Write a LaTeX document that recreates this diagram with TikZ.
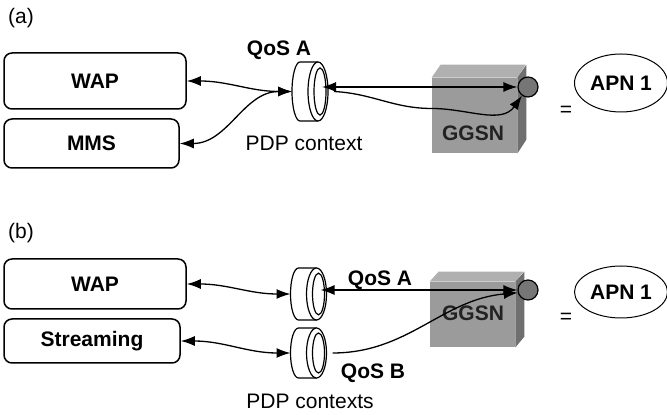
\documentclass[tikz,border=0pt]{standalone}
\usepackage{fontspec}
\setmainfont{Liberation Sans}
\usetikzlibrary{arrows.meta, positioning, shapes.geometric}

\definecolor{cubefront}{HTML}{9B9B9B}
\definecolor{cubetop}{HTML}{B0B0B0}
\definecolor{cubeside}{HTML}{6F6F6F}
\definecolor{cubetext}{HTML}{222222}
\definecolor{portfill}{HTML}{767676}

\newcommand{\figfont}{\fontsize{10.5}{12}\selectfont}

% PDP context drawn as a short tube lying on its side
\tikzset{
  pics/ring/.style={code={
    \draw[ringline, fill=white] (8,#1) -- (-10,#1)
      arc[start angle=90, end angle=270, x radius=8, y radius=#1] -- (8,-#1);
    \draw[ringline, fill=white] (8,0) ellipse[x radius=10, y radius=#1];
    \draw[ringline] (10,0) ellipse[x radius=6, y radius={0.8*#1}];
    \coordinate (-w) at (-18,0);
    \coordinate (-in) at (12,0);
    \coordinate (-e) at (24,0);
  }}
}

\begin{document}
\begin{tikzpicture}[
    x=0.5pt, y=0.5pt,
    box/.style={draw, rectangle, rounded corners=4pt, line width=0.75pt, inner sep=0pt, font=\figfont\bfseries},
    cube/.style={rectangle, fill=cubefront, inner sep=0pt},
    cubelabel/.style={font=\figfont\bfseries, text=cubetext},
    port/.style={draw, circle, fill=portfill, line width=0.6pt, minimum size=10pt, inner sep=0pt},
    apn/.style={draw, ellipse, line width=0.5pt, minimum width=46.5pt, inner sep=0pt, font=\figfont\bfseries},
    qos/.style={font=\figfont\bfseries},
    txt/.style={font=\figfont},
    ringline/.style={line width=0.6pt},
    arrow/.style={->, line width=0.65pt, >={Latex[length=7pt, width=5pt]}},
    biarrow/.style={<->, line width=0.65pt, >={Latex[length=7pt, width=5pt]}}
]
    \useasboundingbox (0,0) rectangle (667,-415);

    % (a) both services share one PDP context
    \node[txt] (tagA) at (21,-18) {(a)};

    \node[box, minimum width=91pt, minimum height=28pt] (wapA) at (95,-81) {WAP};
    \node[box, minimum width=87.5pt, minimum height=24.5pt] (mmsA) at (91.5,-143.5) {MMS};

    % GGSN block
    \node[cube, minimum width=42.5pt, minimum height=37.5pt] (ggsnA) at (474.5,-115.5) {};
    \fill[cubetop] (ggsnA.north west) -- ++(9,13) -- ++(85,0) -- (ggsnA.north east) -- cycle;
    \fill[cubeside] (ggsnA.north east) -- ++(9,13) -- ++(0,-75) -- (ggsnA.south east) -- cycle;
    \node[cubelabel] (ggsnTextA) at (473,-133) {GGSN};
    \node[port] (portA) at (528,-87) {};

    \node[txt] (eqA) at (566,-111) {=};
    \node[apn, minimum height=29pt] (apnA) at (621,-83) {APN 1};

    \pic (ringA) at (310,-91.5) {ring=29.5};
    \node[qos] (qosA) at (279,-50) {QoS A};
    \node[txt] (pdpA) at (304,-143) {PDP context};

    \draw[biarrow] (wapA.east) to[out=0, in=180] (ringA-w);
    \draw[biarrow] (mmsA.east) to[out=0, in=180] (ringA-w);
    \draw[biarrow] (portA.west -| ringA-in) -- (portA.west);
    \draw[arrow] (ringA-e) to[out=-3, in=180] ++(98,-17) to[out=0, in=235] (portA.235);

    % (b) one PDP context per service
    \node[txt] (tagB) at (21,-233) {(b)};

    \node[box, minimum width=91pt, minimum height=25pt] (wapB) at (95,-284) {WAP};
    \node[box, minimum width=88pt, minimum height=22pt] (streamB) at (92,-341) {Streaming};

    % GGSN block
    \node[cube, minimum width=42.5pt, minimum height=32.5pt] (ggsnB) at (472.5,-314.5) {};
    \fill[cubetop] (ggsnB.north west) -- ++(9,10) -- ++(85,0) -- (ggsnB.north east) -- cycle;
    \fill[cubeside] (ggsnB.north east) -- ++(9,10) -- ++(0,-65) -- (ggsnB.south east) -- cycle;
    \node[cubelabel] (ggsnTextB) at (473,-313) {GGSN};
    \node[port] (portB) at (528,-290) {};

    \node[txt] (eqB) at (566,-318) {=};
    \node[apn, minimum height=26pt] (apnB) at (621,-292) {APN 1};

    \pic (ringB) at (308.5,-294) {ring=26};
    \pic (ringC) at (308.5,-353) {ring=25};
    \node[qos] (qosB) at (380,-280) {QoS A};
    \node[qos] (qosC) at (373,-373) {QoS B};
    \node[txt] (pdpB) at (310,-401) {PDP contexts};

    \draw[biarrow] (wapB.east) to[out=0, in=180] (ringB-w);
    \draw[biarrow] (streamB.east) to[out=0, in=180] (ringC-w);
    \draw[biarrow] (portB.west -| ringB-in) -- (portB.west);
    \draw[arrow] (ringC-e) to[out=0, in=185] (portB.195);

\end{tikzpicture}
\end{document}
